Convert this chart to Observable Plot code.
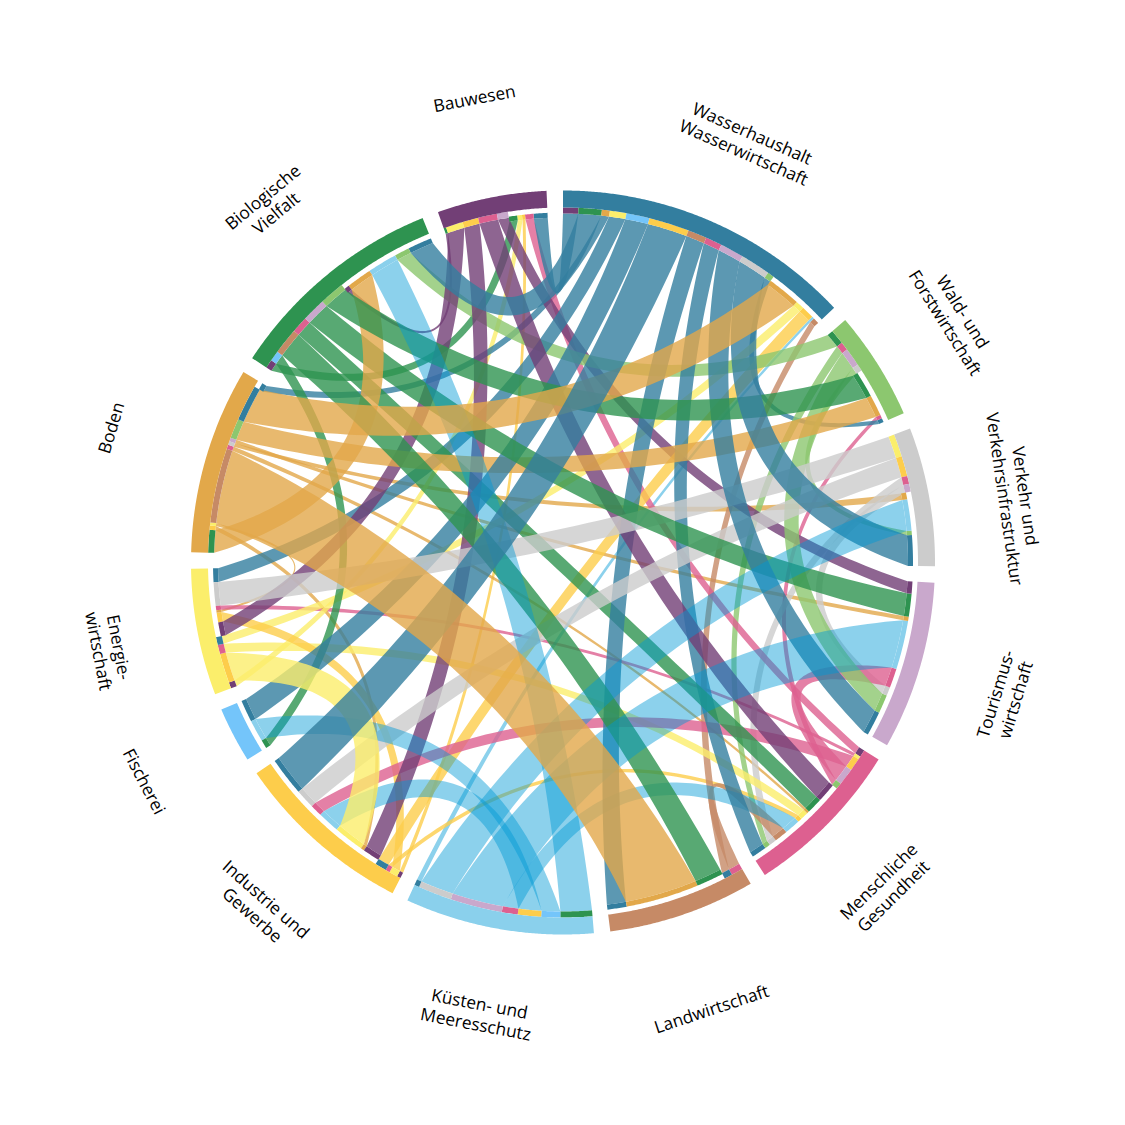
<!DOCTYPE html>
<html lang="de">
<head>
<meta charset="utf-8">
<title>Sektoren</title>
<style>html,body{margin:0;padding:0;background:#fff}svg{display:block}</style>
<script src="https://cdn.jsdelivr.net/npm/d3@7"></script>
<script src="https://cdn.jsdelivr.net/npm/@observablehq/plot@0.6"></script>
</head>
<body>
<div id="chart"></div>
<script>
// Clockwise from the top.
const sectorCodes = ["W","F","V","T","M","L","K","I","S","E","B","D","A"];
const sectorColors = ["#337e9f","#8cc76f","#cccccc","#c9a8cc","#dd6090","#c68a66","#8ad0ec","#fdcd4b","#74c5fa","#fbee6b","#e2a84a","#2e9350","#723f76"];
const sectorLabels = [
  "Wasserhaushalt\nWasserwirtschaft","Wald- und\nForstwirtschaft","Verkehr und\nVerkehrsinfrastruktur",
  "Tourismus-\nwirtschaft","Menschliche\nGesundheit","Landwirtschaft","Küsten- und\nMeeresschutz",
  "Industrie und\nGewerbe","Fischerei","Energie-\nwirtschaft","Boden","Biologische\nVielfalt","Bauwesen"];
const labelAngles = [23.8,57.9,81.8,106.9,135.3,161.6,190.7,221.4,242.4,259.2,286.6,320.6,349.2];
const labelRadii  = [459,462,457,462,458.6,470,459,459,472,462,472,463,473];

// Each sector's slots in clockwise order: partner, size. "Out" slots carry the sector's own ribbons.
const outW = [["A",2.5],["D",3.8],["B",1.3],["E",2.7],["S",3.8],["I",6.6],["L",3.1],["M",2.7],["T",3.9],["V",4.9],["F",1.1]];
const inW  = [["B",5.5],["E",1.4],["I",2.1],["K",0.4],["L",1.0]];
const outF = [["D",2.4],["M",1.4],["T",3.0],["V",1.1]];
const inF  = [["D",4.3],["B",3.5],["M",0.6],["W",0.7]];
const outV = [["E",3.7],["I",3.3],["M",1.3],["T",1.3]];
const inV  = [["B",1.1],["K",5.2],["F",0.7],["W",5.1]];
const outT = [];
const inT  = [["A",2.0],["D",3.8],["B",0.7],["K",8.1],["M",3.2],["V",1.4],["F",3.1],["W",4.0]];
const outM = [["A",1.2],["E",0.5],["I",2.1],["T",2.8],["F",1.0]];
const inM  = [["A",3.2],["D",2.6],["B",0.4],["E",1.3],["I",0.7],["K",2.6],["L",2.2],["V",1.2],["F",0.9],["W",2.5]];
const outL = [["M",1.9],["W",1.3]];
const inL  = [["D",4.5],["B",12.1],["W",3.2]];
const outK = [["D",5.2],["S",3.1],["I",3.8],["M",2.6],["T",8.5],["V",5.5],["W",0.8]];
const inK  = [];
const outI = [["A",0.6],["E",1.4],["M",0.7],["W",1.9]];
const inI  = [["A",2.8],["B",0.6],["E",5.0],["K",3.6],["M",2.0],["V",3.2],["W",6.4]];
const outS = [];
const inS  = [["D",1.4],["K",3.6],["W",3.7]];
const outE = [["A",1.0],["I",4.8],["M",1.5],["W",1.3]];
const inE  = [["A",2.3],["I",1.6],["B",0.4],["M",0.7],["V",3.9],["W",2.3]];
const outB = [["D",3.7],["I",0.7],["E",0.5],["L",12.2],["M",0.7],["V",0.6],["T",0.6],["F",3.2],["W",5.9]];
const inB  = [["W",1.1]];
const outD = [["A",1.4],["S",1.7],["L",4.3],["M",2.7],["T",3.9],["F",4.1]];
const inD  = [["A",0.8],["B",4.2],["K",4.9],["F",2.5],["W",4.0]];
const outA = [["D",0.4],["E",2.8],["I",2.6],["M",3.1],["T",1.8]];
const inA  = [["D",1.4],["E",0.8],["I",0.5],["M",1.4],["W",2.3]];

const outSlots = {W:outW,F:outF,V:outV,T:outT,M:outM,L:outL,K:outK,I:outI,S:outS,E:outE,B:outB,D:outD,A:outA};
const inSlots  = {W:inW,F:inF,V:inV,T:inT,M:inM,L:inL,K:inK,I:inI,S:inS,E:inE,B:inB,D:inD,A:inA};

// Layout: accumulates slot sizes round the circle, with one equal gap between sectors.
const R = {bandOut:372, bandIn:355, outRoot:349, inRoot:345, inTop:350};
const pt = (deg, r) => ({x: r*Math.sin(deg*Math.PI/180), y: r*Math.cos(deg*Math.PI/180)});
const size = c => d3.sum(outSlots[c], s=>s[1]) + d3.sum(inSlots[c], s=>s[1]);
const gap = (360 - d3.sum(sectorCodes, size)) / sectorCodes.length;

const spans = {}, outEnds = {}, inEnds = {};
let cursor = 0;
for (const c of sectorCodes) {
  const start = cursor;
  for (const [p,v] of outSlots[c]) { outEnds[c+">"+p] = [cursor, cursor+v]; cursor += v; }
  for (const [p,v] of inSlots[c])  { inEnds[p+">"+c] = [cursor, cursor+v]; cursor += v; }
  spans[c] = [start, cursor];
  cursor += gap;
}

function arcPts(a0, a1, r) {
  const n = Math.max(2, Math.ceil(Math.abs(a1-a0)/0.25));
  return d3.range(n+1).map(i => pt(a0+(a1-a0)*i/n, r));
}
const signed = (a,b) => { let d = ((b-a)%360+360)%360; return d>180 ? d-360 : d; };
// Edge of a ribbon: a quadratic curve whose midpoint sits at a given radius on the ribbon's bisector.
function edgePts(a, ra, b, rb, midDeg, midR) {
  const P0 = pt(a,ra), P2 = pt(b,rb), M = pt(midDeg,midR);
  const Cx = 2*M.x-0.5*(P0.x+P2.x), Cy = 2*M.y-0.5*(P0.y+P2.y);
  return d3.range(1,64).map(i => { const t=i/64,u=1-t;
    return {x:u*u*P0.x+2*u*t*Cx+t*t*P2.x, y:u*u*P0.y+2*u*t*Cy+t*t*P2.y}; });
}
const ribbons = [], stripPts = [], bandPts = [];
function add(list, id, color, pts, alpha=1) { for (const p of pts) list.push({id, color, alpha, x:p.x, y:p.y}); }

for (const c of sectorCodes) {
  const [s,e] = spans[c];
  add(bandPts, c, c, [...arcPts(s,e,R.bandOut), ...arcPts(e,s,R.bandIn)]);
  for (const [p] of outSlots[c]) {
    const [a0,a1] = outEnds[c+">"+p], [b0,b1] = inEnds[c+">"+p];
    add(stripPts, "o"+c+p, p, [...arcPts(a0,a1,R.bandIn), ...arcPts(a1,a0,R.outRoot)]);
    add(stripPts, "i"+c+p, c, [...arcPts(b0,b1,R.inTop), ...arcPts(b1,b0,R.inRoot)]);
    const ca = (a0+a1)/2, cb = (b0+b1)/2, d = signed(ca,cb);
    const midDeg = ca+d/2;
    const rMid = 0.78*347*Math.pow(Math.max(0,Math.cos(d/2*Math.PI/180)),1.15);
    const flow = ((a1-a0)+(b1-b0))/2;
    const w = flow*Math.PI/180*347*0.78*Math.min(1,Math.abs(d)/28);
    const e1 = d>0 ? rMid+w/2 : rMid-w/2;   // edge a1→b0
    const e2 = d>0 ? rMid-w/2 : rMid+w/2;   // edge b1→a0
    const pts = [];
    add(pts, c+p, c==="K"?"K2":c, [
      ...arcPts(a0,a1,R.outRoot), ...edgePts(a1,R.outRoot,b0,R.inRoot,midDeg,e1),
      ...arcPts(b0,b1,R.inRoot), ...edgePts(b1,R.inRoot,a0,R.outRoot,midDeg,e2)], c==="K"?0.45:0.8);
    ribbons.push({flow, pts});
  }
}
// Larger flows lie on top of smaller ones.
const ribbonPts = d3.sort(ribbons, r=>r.flow).flatMap(r=>r.pts);

const labelRows = sectorLabels.map((text,i) => {
  const a = labelAngles[i], p = pt(a, labelRadii[i]);
  const rot = a>90 && a<270 ? a-180 : (a>=270 ? a-360 : a);
  return {text, x:p.x, y:p.y, rot};
});

const chart = Plot.plot({
  width:1125, height:1125, margin:0,
  x:{domain:[-562.5,562.5], axis:null},
  y:{domain:[-563,562], axis:null},
  color:{domain:[...sectorCodes,"K2"], range:[...sectorColors,"#0099d5"]},
  marks:[
    Plot.line(ribbonPts,{x:"x",y:"y",z:"id",fill:"color",fillOpacity:"alpha",stroke:"none"}),
    Plot.line(stripPts,{x:"x",y:"y",z:"id",fill:"color",stroke:"none"}),
    Plot.line(bandPts,{x:"x",y:"y",z:"id",fill:"color",stroke:"none"}),
    Plot.text(labelRows,{x:"x",y:"y",text:"text",rotate:"rot",fontSize:17.3,fontFamily:"Open Sans",fill:"#000",lineHeight:1.2,textAnchor:"middle",lineAnchor:"middle"})
  ]
});
document.getElementById("chart").append(chart);
</script>
</body>
</html>
